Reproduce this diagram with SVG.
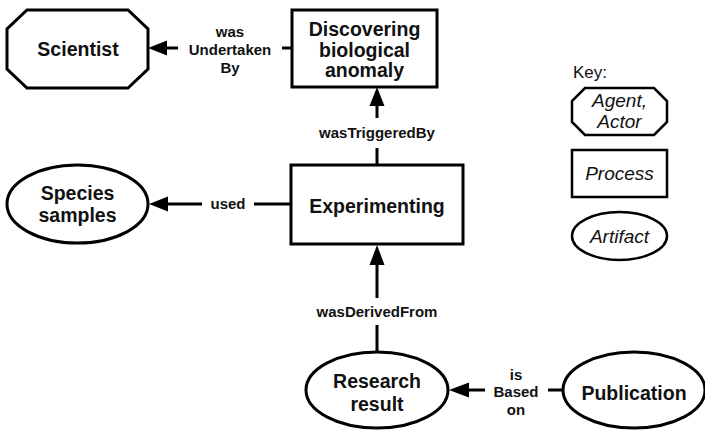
<svg xmlns="http://www.w3.org/2000/svg" width="705" height="430" viewBox="0 0 705 430">
<style>
.n{fill:#fff;stroke:#000;stroke-width:3}
.k{fill:#fff;stroke:#000;stroke-width:2.5}
.t{font-family:"Liberation Sans",Arial,sans-serif;font-weight:bold;font-size:19.5px;text-anchor:middle;fill:#111}
.l{font-family:"Liberation Sans",Arial,sans-serif;font-weight:bold;font-size:15px;text-anchor:middle;fill:#111}
.i{font-family:"Liberation Sans",Arial,sans-serif;font-style:italic;font-size:19px;text-anchor:middle;fill:#111}
.c{stroke:#000;stroke-width:3;fill:none}
.h{fill:#000}
</style>
<rect width="705" height="430" fill="#fff"/>
<g id="connectors">
  <line class="c" x1="292" y1="48" x2="282" y2="48"/>
  <line class="c" x1="178" y1="48" x2="162" y2="48"/>
  <polygon class="h" points="148,48 167,40.5 167,55.5"/>
  <text class="l" x="230" y="37">was</text>
  <text class="l" x="230" y="55">Undertaken</text>
  <text class="l" x="230" y="73">By</text>

  <line class="c" x1="377" y1="165" x2="377" y2="148"/>
  <line class="c" x1="377" y1="118" x2="377" y2="100"/>
  <polygon class="h" points="377,87 369.5,106 384.5,106"/>
  <text class="l" x="377" y="138">wasTriggeredBy</text>

  <line class="c" x1="291" y1="204" x2="254" y2="204"/>
  <line class="c" x1="202" y1="204" x2="163" y2="204"/>
  <polygon class="h" points="149,204 168,196.5 168,211.5"/>
  <text class="l" x="228" y="209">used</text>

  <line class="c" x1="377" y1="352" x2="377" y2="325"/>
  <line class="c" x1="377" y1="298" x2="377" y2="258"/>
  <polygon class="h" points="377,245 369.5,265 384.5,265"/>
  <text class="l" x="377" y="317">wasDerivedFrom</text>

  <line class="c" x1="563" y1="390" x2="548" y2="390"/>
  <line class="c" x1="485" y1="390" x2="463" y2="390"/>
  <polygon class="h" points="449,390 469,382.5 469,397.5"/>
  <text class="l" x="516" y="379.5">is</text>
  <text class="l" x="516" y="397">Based</text>
  <text class="l" x="516" y="414.5">on</text>
</g>
<g id="scientist">
  <polygon class="n" points="27,10 128,10 148,29 148,69 128,88 27,88 7,69 7,29"/>
  <text class="t" x="78" y="56">Scientist</text>
</g>
<g id="discovering">
  <rect class="n" x="292" y="10" width="145" height="77"/>
  <text class="t" x="364.5" y="36">Discovering</text>
  <text class="t" x="364.5" y="56.5">biological</text>
  <text class="t" x="364.5" y="77">anomaly</text>
</g>
<g id="species">
  <ellipse class="n" cx="77.5" cy="204" rx="70.5" ry="39"/>
  <text class="t" x="77.5" y="200">Species</text>
  <text class="t" x="77.5" y="222">samples</text>
</g>
<g id="experimenting">
  <rect class="n" x="291" y="165" width="172" height="79"/>
  <text class="t" x="377" y="213">Experimenting</text>
</g>
<g id="research">
  <ellipse class="n" cx="377" cy="390" rx="71" ry="38"/>
  <text class="t" x="377" y="388">Research</text>
  <text class="t" x="377" y="411">result</text>
</g>
<g id="publication">
  <ellipse class="n" cx="634" cy="390" rx="71" ry="38"/>
  <text class="t" x="634" y="400">Publication</text>
</g>
<g id="key">
  <text font-family="Liberation Sans,Arial,sans-serif" font-size="17" x="573" y="78" fill="#111">Key:</text>
  <polygon class="k" points="585,88 654,88 667,101 667,122 654,135 585,135 572,122 572,101"/>
  <text class="i" x="619.5" y="107">Agent,</text>
  <text class="i" x="619.5" y="128">Actor</text>
  <rect class="k" x="572" y="150" width="95" height="47"/>
  <text class="i" x="619.5" y="180">Process</text>
  <ellipse class="k" cx="619.5" cy="236" rx="47.5" ry="24"/>
  <text class="i" x="619.5" y="243">Artifact</text>
</g>
</svg>
